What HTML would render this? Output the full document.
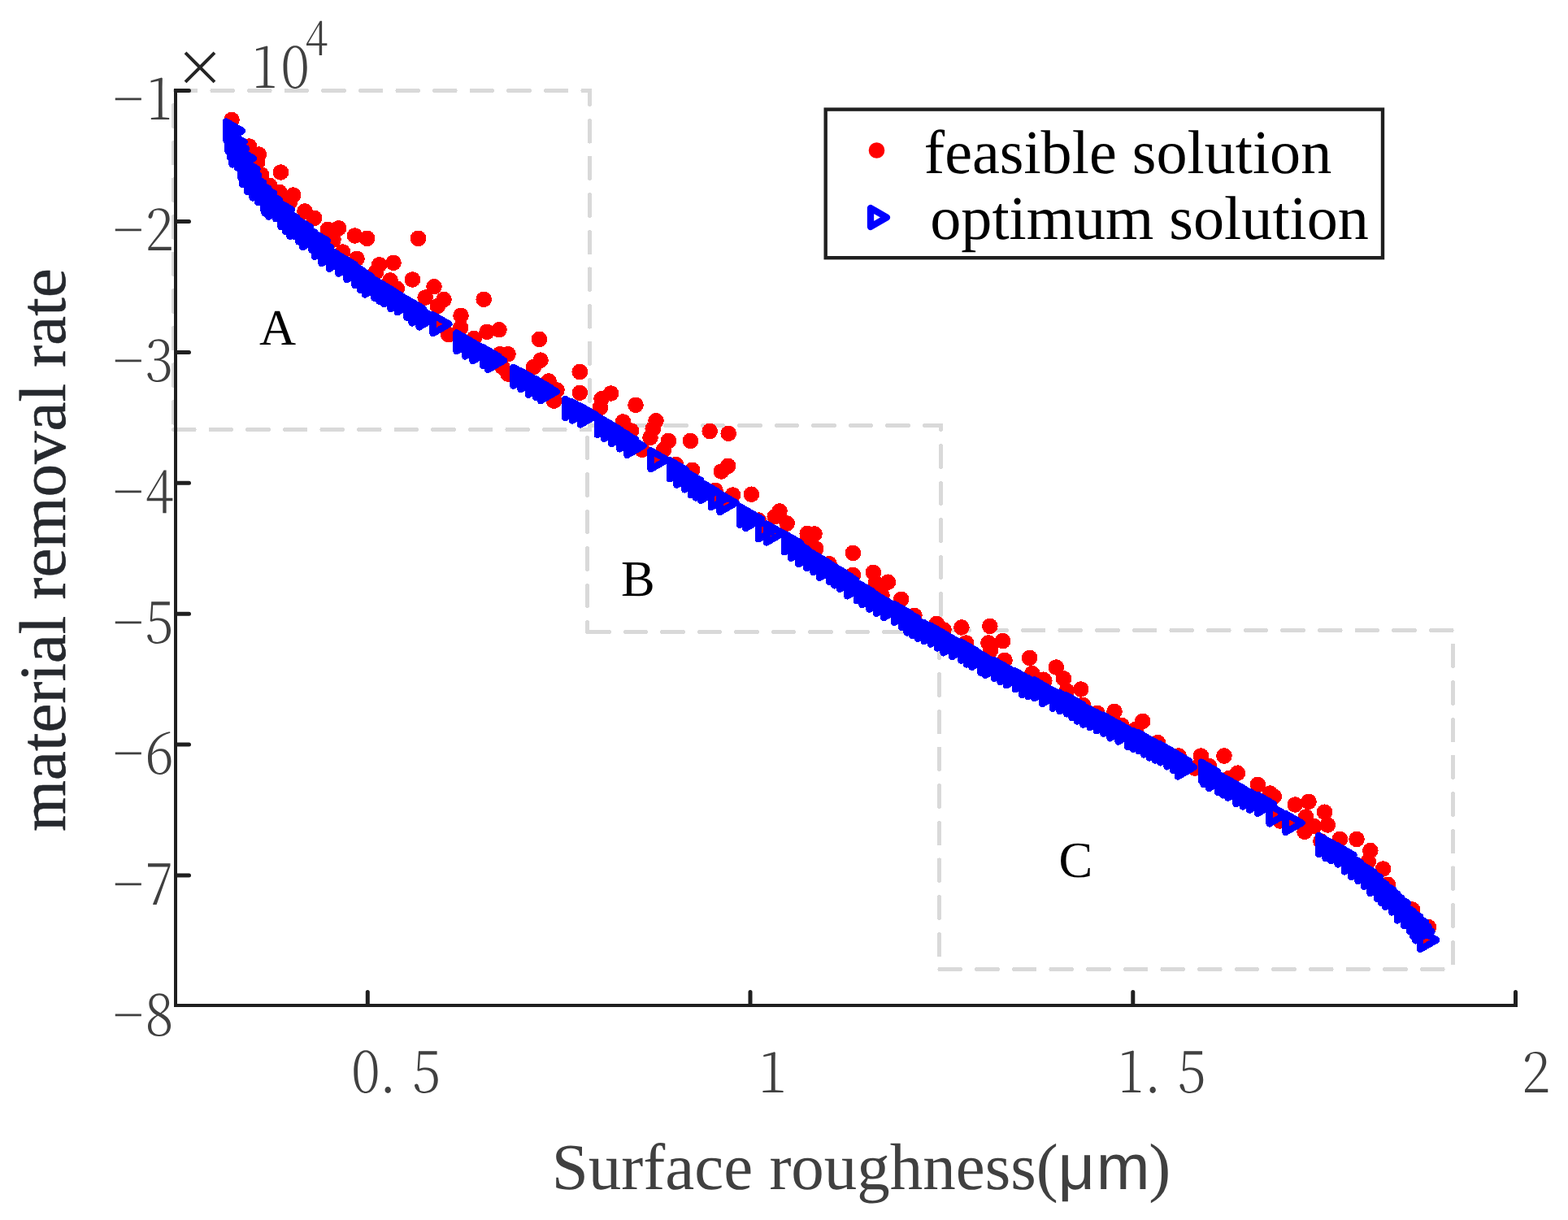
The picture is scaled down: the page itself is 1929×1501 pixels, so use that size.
<!DOCTYPE html>
<html lang="en">
<head>
<meta charset="utf-8">
<title>Pareto front: surface roughness vs material removal rate</title>
<style>
html,body{margin:0;padding:0;background:#fff;}
body{width:1929px;height:1501px;overflow:hidden;}
svg{display:block;}
text{text-rendering:geometricPrecision;}
.tick{font-family:"Noto Serif CJK SC","Liberation Serif",serif;font-weight:300;font-size:70px;fill:#404040;}
.tms{font-family:"Liberation Serif",serif;}
.sans{font-family:"Liberation Sans","DejaVu Sans",sans-serif;}
</style>
</head>
<body>
<svg width="1929" height="1501" viewBox="0 0 1929 1501">
<rect width="1929" height="1501" fill="#fff"/>
<g fill="none" stroke="#d9d9d9" stroke-width="5" stroke-linecap="round" stroke-dasharray="25.6 20" shape-rendering="crispEdges">
<path d="M213.5 528.5H725.5V111.5H213.5Z"/>
<path d="M722.5 777.5H1157.5V523.5H722.5Z" stroke-dasharray="25.5 20" stroke-dashoffset="-1.3"/>
<path d="M1155.5 1192.5H1787.5V775.5H1155.5Z" stroke-dasharray="25.6 20.05" stroke-dashoffset="-0.5"/>
</g>
<g fill="#f00" shape-rendering="crispEdges">
<circle cx="285" cy="147.5" r="9.8"/>
<circle cx="306.6" cy="180" r="9.8"/>
<circle cx="318.3" cy="190" r="9.8"/>
<circle cx="316.6" cy="200" r="9.8"/>
<circle cx="345.4" cy="212" r="9.8"/>
<circle cx="321.6" cy="215" r="9.8"/>
<circle cx="331.6" cy="228.3" r="9.8"/>
<circle cx="344" cy="236.6" r="9.8"/>
<circle cx="360.8" cy="240" r="9.8"/>
<circle cx="356.6" cy="248.3" r="9.8"/>
<circle cx="375" cy="260" r="9.8"/>
<circle cx="386.6" cy="268.3" r="9.8"/>
<circle cx="403.3" cy="282.4" r="9.8"/>
<circle cx="416.6" cy="280.8" r="9.8"/>
<circle cx="410" cy="295" r="9.8"/>
<circle cx="436.6" cy="290" r="9.8"/>
<circle cx="451.6" cy="293.3" r="9.8"/>
<circle cx="514.5" cy="293.3" r="9.8"/>
<circle cx="421.6" cy="310" r="9.8"/>
<circle cx="439" cy="318.3" r="9.8"/>
<circle cx="466.6" cy="325.8" r="9.8"/>
<circle cx="484" cy="323.3" r="9.8"/>
<circle cx="462.4" cy="335" r="9.8"/>
<circle cx="480" cy="345" r="9.8"/>
<circle cx="507.4" cy="344" r="9.8"/>
<circle cx="488.2" cy="355" r="9.8"/>
<circle cx="534" cy="352.8" r="9.8"/>
<circle cx="523.2" cy="366" r="9.8"/>
<circle cx="546" cy="368.6" r="9.8"/>
<circle cx="538.3" cy="376.6" r="9.8"/>
<circle cx="595.2" cy="368.3" r="9.8"/>
<circle cx="567" cy="388.3" r="9.8"/>
<circle cx="566.6" cy="403.3" r="9.8"/>
<circle cx="551.6" cy="411.6" r="9.8"/>
<circle cx="583.2" cy="416.6" r="9.8"/>
<circle cx="599" cy="408.3" r="9.8"/>
<circle cx="614" cy="405.8" r="9.8"/>
<circle cx="663.5" cy="417.4" r="9.8"/>
<circle cx="615" cy="435.7" r="9.8"/>
<circle cx="625" cy="435.7" r="9.8"/>
<circle cx="665" cy="443.2" r="9.8"/>
<circle cx="656.5" cy="451.6" r="9.8"/>
<circle cx="618" cy="451.6" r="9.8"/>
<circle cx="625" cy="460" r="9.8"/>
<circle cx="675" cy="469" r="9.8"/>
<circle cx="685" cy="480" r="9.8"/>
<circle cx="681.5" cy="493.2" r="9.8"/>
<circle cx="713.3" cy="457.5" r="9.8"/>
<circle cx="713.3" cy="483.3" r="9.8"/>
<circle cx="751.6" cy="484" r="9.8"/>
<circle cx="740" cy="490.8" r="9.8"/>
<circle cx="738.3" cy="501.6" r="9.8"/>
<circle cx="782" cy="498.3" r="9.8"/>
<circle cx="766.6" cy="519" r="9.8"/>
<circle cx="776.6" cy="530" r="9.8"/>
<circle cx="807" cy="517.8" r="9.8"/>
<circle cx="803.3" cy="527.5" r="9.8"/>
<circle cx="800" cy="538.3" r="9.8"/>
<circle cx="822.4" cy="542.4" r="9.8"/>
<circle cx="816.6" cy="553.3" r="9.8"/>
<circle cx="790" cy="553.3" r="9.8"/>
<circle cx="849.4" cy="542.4" r="9.8"/>
<circle cx="873.2" cy="530.5" r="9.8"/>
<circle cx="896.2" cy="533.3" r="9.8"/>
<circle cx="895.7" cy="573.3" r="9.8"/>
<circle cx="887.4" cy="580" r="9.8"/>
<circle cx="851.6" cy="578.3" r="9.8"/>
<circle cx="831.6" cy="571.6" r="9.8"/>
<circle cx="880" cy="603.3" r="9.8"/>
<circle cx="901.5" cy="609" r="9.8"/>
<circle cx="924.4" cy="608.2" r="9.8"/>
<circle cx="959" cy="629" r="9.8"/>
<circle cx="953.2" cy="635.7" r="9.8"/>
<circle cx="968.2" cy="644" r="9.8"/>
<circle cx="933.2" cy="640" r="9.8"/>
<circle cx="993.2" cy="656.5" r="9.8"/>
<circle cx="1002" cy="657" r="9.8"/>
<circle cx="992.4" cy="666.2" r="9.8"/>
<circle cx="1003.7" cy="675" r="9.8"/>
<circle cx="1020" cy="693.7" r="9.8"/>
<circle cx="1049.4" cy="680.4" r="9.8"/>
<circle cx="1049.4" cy="707.4" r="9.8"/>
<circle cx="1074.4" cy="704.4" r="9.8"/>
<circle cx="1092.4" cy="716.2" r="9.8"/>
<circle cx="1077.4" cy="717.4" r="9.8"/>
<circle cx="1085" cy="732.4" r="9.8"/>
<circle cx="1108.6" cy="737.4" r="9.8"/>
<circle cx="1124.9" cy="757.4" r="9.8"/>
<circle cx="1152.4" cy="767.4" r="9.8"/>
<circle cx="1161" cy="775" r="9.8"/>
<circle cx="1182.9" cy="772" r="9.8"/>
<circle cx="1188.6" cy="791" r="9.8"/>
<circle cx="1217.8" cy="770.4" r="9.8"/>
<circle cx="1216" cy="791" r="9.8"/>
<circle cx="1233.6" cy="788.6" r="9.8"/>
<circle cx="1218.6" cy="800" r="9.8"/>
<circle cx="1236" cy="812.4" r="9.8"/>
<circle cx="1266.6" cy="809.4" r="9.8"/>
<circle cx="1269.8" cy="828.6" r="9.8"/>
<circle cx="1284.8" cy="837.4" r="9.8"/>
<circle cx="1299.3" cy="821" r="9.8"/>
<circle cx="1308.5" cy="834.9" r="9.8"/>
<circle cx="1329.8" cy="848" r="9.8"/>
<circle cx="1312.3" cy="850" r="9.8"/>
<circle cx="1332.3" cy="867.4" r="9.8"/>
<circle cx="1349.8" cy="877.4" r="9.8"/>
<circle cx="1371" cy="875.4" r="9.8"/>
<circle cx="1283.7" cy="836.2" r="9.8"/>
<circle cx="1350" cy="877.4" r="9.8"/>
<circle cx="1380" cy="892.4" r="9.8"/>
<circle cx="1405.7" cy="887.4" r="9.8"/>
<circle cx="1397.4" cy="897.4" r="9.8"/>
<circle cx="1424.4" cy="913.7" r="9.8"/>
<circle cx="1450" cy="930" r="9.8"/>
<circle cx="1477.4" cy="930" r="9.8"/>
<circle cx="1506" cy="930" r="9.8"/>
<circle cx="1522.4" cy="951.2" r="9.8"/>
<circle cx="1512.4" cy="957.4" r="9.8"/>
<circle cx="1487.4" cy="942.4" r="9.8"/>
<circle cx="1470" cy="945" r="9.8"/>
<circle cx="1547.4" cy="965.4" r="9.8"/>
<circle cx="1562.4" cy="976" r="9.8"/>
<circle cx="1567.3" cy="980" r="9.8"/>
<circle cx="1593.3" cy="990" r="9.8"/>
<circle cx="1610" cy="986.3" r="9.8"/>
<circle cx="1629.6" cy="999.2" r="9.8"/>
<circle cx="1606.6" cy="1005" r="9.8"/>
<circle cx="1633.3" cy="1015" r="9.8"/>
<circle cx="1616.6" cy="1016.6" r="9.8"/>
<circle cx="1605" cy="1023.3" r="9.8"/>
<circle cx="1625" cy="1035" r="9.8"/>
<circle cx="1648.3" cy="1032.5" r="9.8"/>
<circle cx="1669" cy="1032.5" r="9.8"/>
<circle cx="1685.8" cy="1046.6" r="9.8"/>
<circle cx="1683.3" cy="1060" r="9.8"/>
<circle cx="1701.6" cy="1069" r="9.8"/>
<circle cx="1707.4" cy="1088.3" r="9.8"/>
<circle cx="1737.4" cy="1119" r="9.8"/>
<circle cx="1757.4" cy="1140.7" r="9.8"/>
<circle cx="1755" cy="1156.6" r="9.8"/>
<circle cx="1574.8" cy="1010" r="9.8"/>
<circle cx="285.6" cy="161" r="9.8"/>
<circle cx="288" cy="174.5" r="9.8"/>
<circle cx="290.5" cy="182.8" r="9.8"/>
<circle cx="293" cy="191" r="9.8"/>
<circle cx="299.5" cy="195" r="9.8"/>
<circle cx="304" cy="207.8" r="9.8"/>
<circle cx="305.6" cy="215.3" r="9.8"/>
<circle cx="311.5" cy="224.5" r="9.8"/>
<circle cx="318" cy="232" r="9.8"/>
<circle cx="324.8" cy="237.8" r="9.8"/>
<circle cx="331.5" cy="246" r="9.8"/>
<circle cx="333" cy="251" r="9.8"/>
<circle cx="338" cy="255.3" r="9.8"/>
<circle cx="346.5" cy="257.8" r="9.8"/>
<circle cx="353" cy="267.8" r="9.8"/>
<circle cx="358.5" cy="273.6" r="9.8"/>
<circle cx="364" cy="279.4" r="9.8"/>
<circle cx="369.8" cy="279.4" r="9.8"/>
<circle cx="374.8" cy="286" r="9.8"/>
<circle cx="379.8" cy="292.7" r="9.8"/>
<circle cx="390.6" cy="296" r="9.8"/>
<circle cx="394.8" cy="304.4" r="9.8"/>
<circle cx="403" cy="312.7" r="9.8"/>
<circle cx="412.3" cy="319.4" r="9.8"/>
<circle cx="424" cy="325.3" r="9.8"/>
<circle cx="434" cy="332.8" r="9.8"/>
<circle cx="444" cy="339.5" r="9.8"/>
<circle cx="450.2" cy="345.2" r="9.8"/>
<circle cx="456.5" cy="351" r="9.8"/>
<circle cx="468" cy="355.3" r="9.8"/>
<circle cx="473.9" cy="359.1" r="9.8"/>
<circle cx="479.8" cy="362.8" r="9.8"/>
<circle cx="488" cy="368.6" r="9.8"/>
<circle cx="496.4" cy="372.8" r="9.8"/>
<circle cx="508" cy="379.4" r="9.8"/>
<circle cx="514" cy="386" r="9.8"/>
<circle cx="523" cy="391" r="9.8"/>
<circle cx="540" cy="398.7" r="9.8"/>
<circle cx="569" cy="420.8" r="9.8"/>
<circle cx="579.7" cy="427" r="9.8"/>
<circle cx="589" cy="432.7" r="9.8"/>
<circle cx="601.4" cy="438.6" r="9.8"/>
<circle cx="607.6" cy="443.5" r="9.8"/>
<circle cx="638.9" cy="463.2" r="9.8"/>
<circle cx="648" cy="467.7" r="9.8"/>
<circle cx="657.2" cy="474.4" r="9.8"/>
<circle cx="666.4" cy="477.7" r="9.8"/>
<circle cx="672.5" cy="481.8" r="9.8"/>
<circle cx="702.8" cy="502.5" r="9.8"/>
<circle cx="711.5" cy="506" r="9.8"/>
<circle cx="721.5" cy="511" r="9.8"/>
<circle cx="742.3" cy="523.6" r="9.8"/>
<circle cx="750.6" cy="528.6" r="9.8"/>
<circle cx="759.8" cy="534.5" r="9.8"/>
<circle cx="769.8" cy="541" r="9.8"/>
<circle cx="779" cy="548.5" r="9.8"/>
<circle cx="808" cy="565.8" r="9.8"/>
<circle cx="831.4" cy="577.8" r="9.8"/>
<circle cx="839.8" cy="585.3" r="9.8"/>
<circle cx="849.8" cy="591" r="9.8"/>
<circle cx="857.3" cy="597.8" r="9.8"/>
<circle cx="863.5" cy="601.1" r="9.8"/>
<circle cx="869.7" cy="604.4" r="9.8"/>
<circle cx="882.2" cy="612.7" r="9.8"/>
<circle cx="893" cy="618.6" r="9.8"/>
<circle cx="917.2" cy="634.4" r="9.8"/>
<circle cx="924.7" cy="638.6" r="9.8"/>
<circle cx="940.5" cy="651.9" r="9.8"/>
<circle cx="950.5" cy="656" r="9.8"/>
<circle cx="972.3" cy="667.8" r="9.8"/>
<circle cx="980.6" cy="675.3" r="9.8"/>
<circle cx="989.8" cy="682.8" r="9.8"/>
<circle cx="999.8" cy="687.8" r="9.8"/>
<circle cx="1008.1" cy="692.8" r="9.8"/>
<circle cx="1015.6" cy="699.5" r="9.8"/>
<circle cx="1027.3" cy="704.5" r="9.8"/>
<circle cx="1033.9" cy="709" r="9.8"/>
<circle cx="1040.6" cy="713.6" r="9.8"/>
<circle cx="1049.8" cy="722" r="9.8"/>
<circle cx="1061.4" cy="727.8" r="9.8"/>
<circle cx="1068.1" cy="732.8" r="9.8"/>
<circle cx="1076.8" cy="738.2" r="9.8"/>
<circle cx="1085.6" cy="743.6" r="9.8"/>
<circle cx="1094.8" cy="748.6" r="9.8"/>
<circle cx="1107.3" cy="754.4" r="9.8"/>
<circle cx="1116.4" cy="760.3" r="9.8"/>
<circle cx="1123.1" cy="767" r="9.8"/>
<circle cx="1129.8" cy="770.7" r="9.8"/>
<circle cx="1136.4" cy="774.4" r="9.8"/>
<circle cx="1144.3" cy="777.8" r="9.8"/>
<circle cx="1152.2" cy="781.1" r="9.8"/>
<circle cx="1160.6" cy="786.1" r="9.8"/>
<circle cx="1168" cy="791.9" r="9.8"/>
<circle cx="1178.8" cy="796.5" r="9.8"/>
<circle cx="1189.7" cy="801.1" r="9.8"/>
<circle cx="1196.4" cy="806.1" r="9.8"/>
<circle cx="1203" cy="809.4" r="9.8"/>
<circle cx="1213.9" cy="816.1" r="9.8"/>
<circle cx="1219.7" cy="819.4" r="9.8"/>
<circle cx="1230.5" cy="823.6" r="9.8"/>
<circle cx="1238" cy="827.8" r="9.8"/>
<circle cx="1245.5" cy="831.9" r="9.8"/>
<circle cx="1256.3" cy="836.9" r="9.8"/>
<circle cx="1264.7" cy="843.6" r="9.8"/>
<circle cx="1272.2" cy="845.7" r="9.8"/>
<circle cx="1279.8" cy="847.8" r="9.8"/>
<circle cx="1289.8" cy="854.5" r="9.8"/>
<circle cx="1302.3" cy="860.3" r="9.8"/>
<circle cx="1311" cy="863.6" r="9.8"/>
<circle cx="1319.8" cy="867" r="9.8"/>
<circle cx="1326" cy="871.5" r="9.8"/>
<circle cx="1332.3" cy="876.1" r="9.8"/>
<circle cx="1339.8" cy="880.3" r="9.8"/>
<circle cx="1348.1" cy="883.6" r="9.8"/>
<circle cx="1356.4" cy="887.8" r="9.8"/>
<circle cx="1364.8" cy="891.1" r="9.8"/>
<circle cx="1373.1" cy="896.9" r="9.8"/>
<circle cx="1383.1" cy="901.1" r="9.8"/>
<circle cx="1394.7" cy="907.8" r="9.8"/>
<circle cx="1401.4" cy="910.3" r="9.8"/>
<circle cx="1408.1" cy="912.8" r="9.8"/>
<circle cx="1414.8" cy="917" r="9.8"/>
<circle cx="1421.4" cy="921.1" r="9.8"/>
<circle cx="1428.1" cy="924" r="9.8"/>
<circle cx="1434.7" cy="926.9" r="9.8"/>
<circle cx="1443.1" cy="931.9" r="9.8"/>
<circle cx="1450.6" cy="936.3" r="9.8"/>
<circle cx="1456.5" cy="944" r="9.8"/>
<circle cx="1485.5" cy="949.1" r="9.8"/>
<circle cx="1488" cy="953.6" r="9.8"/>
<circle cx="1494.7" cy="958.6" r="9.8"/>
<circle cx="1505.5" cy="963.6" r="9.8"/>
<circle cx="1511.8" cy="966.9" r="9.8"/>
<circle cx="1518" cy="970.2" r="9.8"/>
<circle cx="1528" cy="977.7" r="9.8"/>
<circle cx="1536.3" cy="981.1" r="9.8"/>
<circle cx="1544.7" cy="985.2" r="9.8"/>
<circle cx="1554.7" cy="989.4" r="9.8"/>
<circle cx="1569" cy="1002" r="9.8"/>
<circle cx="1589" cy="1012.5" r="9.8"/>
<circle cx="1629.8" cy="1039.5" r="9.8"/>
<circle cx="1638" cy="1044.5" r="9.8"/>
<circle cx="1644.8" cy="1047.8" r="9.8"/>
<circle cx="1653" cy="1052" r="9.8"/>
<circle cx="1661.4" cy="1061" r="9.8"/>
<circle cx="1669.8" cy="1067.8" r="9.8"/>
<circle cx="1678" cy="1072.8" r="9.8"/>
<circle cx="1685.6" cy="1079.4" r="9.8"/>
<circle cx="1693" cy="1087.8" r="9.8"/>
<circle cx="1701.4" cy="1094.4" r="9.8"/>
<circle cx="1706.4" cy="1099.4" r="9.8"/>
<circle cx="1711.4" cy="1104.4" r="9.8"/>
<circle cx="1719.7" cy="1111" r="9.8"/>
<circle cx="1726.4" cy="1121" r="9.8"/>
<circle cx="1734.7" cy="1127.8" r="9.8"/>
<circle cx="1741.4" cy="1134.4" r="9.8"/>
<circle cx="1745.2" cy="1140.2" r="9.8"/>
<circle cx="1748.9" cy="1146" r="9.8"/>
<circle cx="1754.7" cy="1156.5" r="9.8"/>
</g>
<g stroke="#00f" stroke-width="8.3" stroke-linejoin="round" shape-rendering="crispEdges">
<path fill="#00f" d="M278.1 149.5v23l20-11.5zM280.5 163v23l20-11.5zM283 171.2v23l20-11.5zM285.5 179.5v23l20-11.5zM292 183.5v23l20-11.5zM296.5 196.3v23l20-11.5zM298.1 203.8v23l20-11.5zM304 213v23l20-11.5zM310.5 220.5v23l20-11.5zM317.3 226.3v23l20-11.5zM324 234.5v23l20-11.5zM325.5 239.5v23l20-11.5zM330.5 243.8v23l20-11.5zM339 246.3v23l20-11.5zM345.5 256.3v23l20-11.5zM351 262.1v23l20-11.5zM356.5 267.9v23l20-11.5zM362.3 267.9v23l20-11.5zM367.3 274.5v23l20-11.5zM372.3 281.2v23l20-11.5zM383.1 284.5v23l20-11.5zM387.3 292.9v23l20-11.5zM395.5 301.2v23l20-11.5zM404.8 307.9v23l20-11.5zM416.5 313.8v23l20-11.5zM426.5 321.3v23l20-11.5zM436.5 328v23l20-11.5zM442.8 333.8v23l20-11.5zM449 339.5v23l20-11.5zM460.5 343.8v23l20-11.5zM466.4 347.6v23l20-11.5zM472.3 351.3v23l20-11.5zM480.5 357.1v23l20-11.5zM488.9 361.3v23l20-11.5zM500.5 367.9v23l20-11.5zM506.5 374.5v23l20-11.5zM515.5 379.5v23l20-11.5zM561.5 409.3v23l20-11.5zM572.2 415.5v23l20-11.5zM581.5 421.2v23l20-11.5zM593.9 427.1v23l20-11.5zM600.1 432v23l20-11.5zM631.4 451.7v23l20-11.5zM640.5 456.2v23l20-11.5zM649.7 462.9v23l20-11.5zM658.9 466.2v23l20-11.5zM665 470.3v23l20-11.5zM695.3 491v23l20-11.5zM704 494.5v23l20-11.5zM714 499.5v23l20-11.5zM734.8 512.1v23l20-11.5zM743.1 517.1v23l20-11.5zM752.3 523v23l20-11.5zM762.3 529.5v23l20-11.5zM771.5 537v23l20-11.5zM823.9 566.3v23l20-11.5zM832.3 573.8v23l20-11.5zM842.3 579.5v23l20-11.5zM849.8 586.3v23l20-11.5zM856 589.6v23l20-11.5zM862.2 592.9v23l20-11.5zM909.7 622.9v23l20-11.5zM917.2 627.1v23l20-11.5zM964.8 656.3v23l20-11.5zM973.1 663.8v23l20-11.5zM982.3 671.3v23l20-11.5zM992.3 676.3v23l20-11.5zM1000.6 681.3v23l20-11.5zM1008.1 688v23l20-11.5zM1019.8 693v23l20-11.5zM1026.4 697.5v23l20-11.5zM1033.1 702.1v23l20-11.5zM1042.3 710.5v23l20-11.5zM1053.9 716.3v23l20-11.5zM1060.6 721.3v23l20-11.5zM1069.3 726.7v23l20-11.5zM1078.1 732.1v23l20-11.5zM1087.3 737.1v23l20-11.5zM1099.8 742.9v23l20-11.5zM1108.9 748.8v23l20-11.5zM1115.6 755.5v23l20-11.5zM1122.2 759.2v23l20-11.5zM1128.9 762.9v23l20-11.5zM1136.8 766.2v23l20-11.5zM1144.7 769.6v23l20-11.5zM1153.1 774.6v23l20-11.5zM1160.5 780.4v23l20-11.5zM1171.3 785v23l20-11.5zM1182.2 789.6v23l20-11.5zM1188.9 794.6v23l20-11.5zM1195.5 797.9v23l20-11.5zM1206.4 804.6v23l20-11.5zM1212.2 807.9v23l20-11.5zM1223 812.1v23l20-11.5zM1230.5 816.2v23l20-11.5zM1238 820.4v23l20-11.5zM1248.8 825.4v23l20-11.5zM1257.2 832.1v23l20-11.5zM1264.8 834.2v23l20-11.5zM1272.3 836.3v23l20-11.5zM1282.3 843v23l20-11.5zM1294.8 848.8v23l20-11.5zM1303.5 852.1v23l20-11.5zM1312.3 855.5v23l20-11.5zM1318.5 860v23l20-11.5zM1324.8 864.6v23l20-11.5zM1332.3 868.8v23l20-11.5zM1340.6 872.1v23l20-11.5zM1348.9 876.3v23l20-11.5zM1357.3 879.6v23l20-11.5zM1365.6 885.4v23l20-11.5zM1375.6 889.6v23l20-11.5zM1387.2 896.3v23l20-11.5zM1393.9 898.8v23l20-11.5zM1400.6 901.3v23l20-11.5zM1407.2 905.5v23l20-11.5zM1413.9 909.6v23l20-11.5zM1420.6 912.5v23l20-11.5zM1427.2 915.4v23l20-11.5zM1435.6 920.4v23l20-11.5zM1443.1 924.8v23l20-11.5zM1449 932.5v23l20-11.5zM1478 937.6v23l20-11.5zM1480.5 942.1v23l20-11.5zM1487.2 947.1v23l20-11.5zM1498 952.1v23l20-11.5zM1504.2 955.4v23l20-11.5zM1510.5 958.7v23l20-11.5zM1520.5 966.2v23l20-11.5zM1528.8 969.6v23l20-11.5zM1537.2 973.7v23l20-11.5zM1547.2 977.9v23l20-11.5zM1622.3 1028v23l20-11.5zM1630.5 1033v23l20-11.5zM1637.3 1036.3v23l20-11.5zM1645.5 1040.5v23l20-11.5zM1653.9 1049.5v23l20-11.5zM1662.3 1056.3v23l20-11.5zM1670.5 1061.3v23l20-11.5zM1678.1 1067.9v23l20-11.5zM1685.5 1076.3v23l20-11.5zM1693.9 1082.9v23l20-11.5zM1698.9 1087.9v23l20-11.5zM1703.9 1092.9v23l20-11.5zM1712.2 1099.5v23l20-11.5zM1718.9 1109.5v23l20-11.5zM1727.2 1116.3v23l20-11.5zM1733.9 1122.9v23l20-11.5zM1737.7 1128.7v23l20-11.5zM1741.4 1134.5v23l20-11.5z"/>
<path fill="none" d="M532.5 387.2v23l20-11.5zM800.5 554.3v23l20-11.5zM874.7 601.2v23l20-11.5zM885.5 607.1v23l20-11.5zM933 640.4v23l20-11.5zM943 644.5v23l20-11.5zM1561.5 990.5v23l20-11.5zM1581.5 1001v23l20-11.5zM1747.2 1145v23l20-11.5z"/>
</g>
<g fill="#1f1f1f" shape-rendering="crispEdges">
<rect x="214" y="109" width="4" height="1130"/>
<rect x="214" y="1235" width="1653" height="4"/>
</g>
<g fill="none" stroke="#1f1f1f" stroke-width="5" stroke-linecap="round">
<path d="M217 111.6H232.5"/>
<path d="M217 272.5H232.5"/>
<path d="M217 433.4H232.5"/>
<path d="M217 594.3H232.5"/>
<path d="M217 755.2H232.5"/>
<path d="M217 916.1H232.5"/>
<path d="M217 1077H232.5"/>
<path d="M452.3 1236V1220.5"/>
<path d="M923 1236V1220.5"/>
<path d="M1393.8 1236V1220.5"/>
<path d="M1864.5 1236V1220.5"/>
</g>
<rect x="1015.7" y="134.6" width="685.3" height="182.6" fill="#fff" stroke="#1f1f1f" stroke-width="4.4"/>
<circle cx="1078.5" cy="185" r="9.8" fill="#f00"/>
<path fill="none" stroke="#00f" stroke-width="8.3" stroke-linejoin="round" d="M1071 256v23l20-11.5z"/>
<text class="tms" x="1136.8" y="213.4" font-size="76.2" fill="#000">feasible solution</text>
<text class="tms" x="1144.2" y="293.7" font-size="76.2" fill="#000">optimum solution</text>
<text class="tms" x="319" y="424" font-size="62.5" fill="#000">A</text>
<text class="tms" x="764" y="732.5" font-size="62.5" fill="#000">B</text>
<text class="tms" x="1302.5" y="1078.6" font-size="62.5" fill="#000">C</text>
<text class="tick" transform="translate(196 147.2) scale(0.92 1)" text-anchor="middle"><tspan x="-41.7">−</tspan><tspan x="0">1</tspan></text>
<text class="tick" transform="translate(196 308.1) scale(0.92 1)" text-anchor="middle"><tspan x="-41.7">−</tspan><tspan x="0">2</tspan></text>
<text class="tick" transform="translate(196 469) scale(0.92 1)" text-anchor="middle"><tspan x="-41.7">−</tspan><tspan x="0">3</tspan></text>
<text class="tick" transform="translate(196 629.9) scale(0.92 1)" text-anchor="middle"><tspan x="-41.7">−</tspan><tspan x="0">4</tspan></text>
<text class="tick" transform="translate(196 790.8) scale(0.92 1)" text-anchor="middle"><tspan x="-41.7">−</tspan><tspan x="0">5</tspan></text>
<text class="tick" transform="translate(196 951.7) scale(0.92 1)" text-anchor="middle"><tspan x="-41.7">−</tspan><tspan x="0">6</tspan></text>
<text class="tick" transform="translate(196 1112.6) scale(0.92 1)" text-anchor="middle"><tspan x="-41.7">−</tspan><tspan x="0">7</tspan></text>
<text class="tick" transform="translate(196 1273.5) scale(0.92 1)" text-anchor="middle"><tspan x="-41.7">−</tspan><tspan x="0">8</tspan></text>
<text class="tick" transform="translate(450 1344.3) scale(0.92 1)" text-anchor="middle"><tspan x="0">0</tspan><tspan x="29.7">.</tspan><tspan x="81.3">5</tspan></text>
<text class="tick" transform="translate(950.5 1344.3) scale(0.92 1)" text-anchor="middle">1</text>
<text class="tick" transform="translate(1391 1344.3) scale(0.92 1)" text-anchor="middle"><tspan x="0">1</tspan><tspan x="29.7">.</tspan><tspan x="81.8">5</tspan></text>
<text class="tick" transform="translate(1890 1344.3) scale(0.92 1)" text-anchor="middle">2</text>
<text class="tick" text-anchor="middle" x="246" y="105" style="font-size:60px;fill:#262626;stroke:#262626;stroke-width:1.4px">×</text>
<text class="tick" transform="translate(325.5 108) scale(0.92 1)" text-anchor="middle"><tspan x="0">1</tspan><tspan x="40.9">0</tspan><tspan x="69.3" dy="-41" style="font-size:56px">4</tspan></text>
<text class="tms" x="678.8" y="1462.5" font-size="81" fill="#404040">Surface roughness(<tspan class="sans" x="1301.5" font-size="79">μ<tspan dx="1.8">m</tspan></tspan><tspan x="1413.3">)</tspan></text>
<text class="tms" transform="translate(80 1023) rotate(-90)" font-size="81" fill="#26292e" stroke="#26292e" stroke-width="0.5">material removal rate</text>
</svg>
</body>
</html>
